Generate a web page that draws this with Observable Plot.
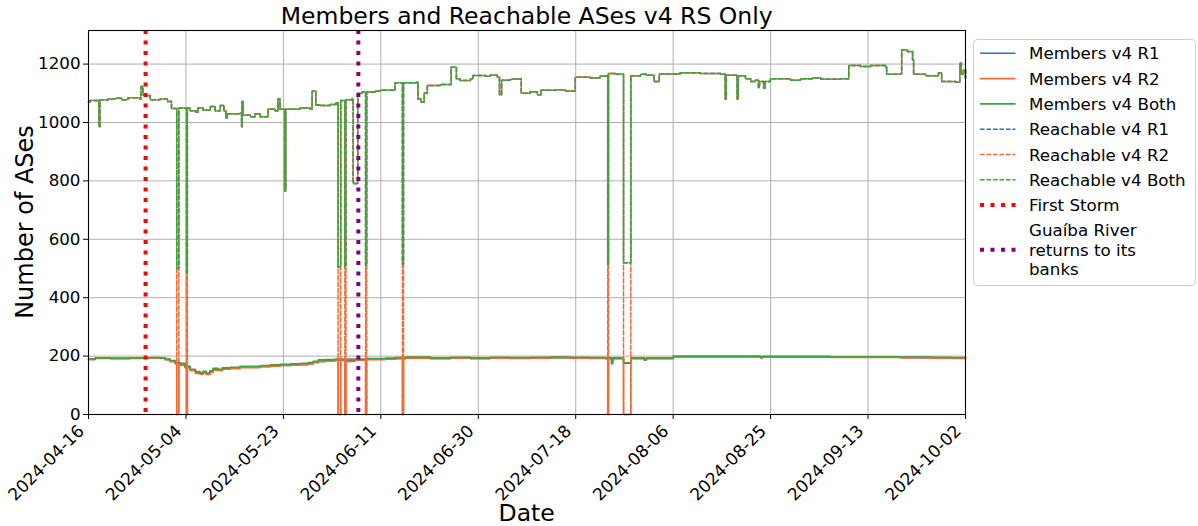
<!DOCTYPE html>
<html><head><meta charset="utf-8">
<script src="https://cdn.jsdelivr.net/npm/d3@7"></script>
<script src="https://cdn.jsdelivr.net/npm/@observablehq/plot@0.6"></script>
<style>
body{margin:0;background:#fff}
svg{font-family:"DejaVu Sans",sans-serif}
</style>
</head><body><div id="chart"></div>
<script>
// ---- data (x = days since 2024-04-16 UTC) ----
const startDay = "2024-04-16";
const endDay = "2024-10-02";
const xTickLabels = ["2024-04-16","2024-05-04","2024-05-23","2024-06-11","2024-06-30","2024-07-18","2024-08-06","2024-08-25","2024-09-13","2024-10-02"];
const yTicks = [0,200,400,600,800,1000,1200];
const eventDates = ["2024-04-27","2024-06-07"];
const eventLabels = ["First Storm","Guaíba River returns to its banks"];

// Reachable ASes (R1, R2 and Both coincide outside the outages)
const reachable = [[0,1070],[0.3,1075],[2.0,985],[2.2,1078],[3.8,1080],[5.1,1083],[6.5,1078],[7.6,1085],[9.9,1080],[10.1,1123],[10.5,1095],[11.1,1092],[11.9,1078],[13.8,1080],[15.2,1072],[16.0,1048],[17.4,1050],[19.6,1040],[20.7,1035],[21.1,1050],[22.1,1042],[23.5,1055],[24.4,1040],[25.4,1058],[26.1,1040],[26.5,1015],[26.7,1030],[29.2,1032],[29.5,985],[29.6,1072],[29.8,1025],[31.2,1020],[32.1,1030],[33.1,1020],[34.6,1045],[35.9,1040],[36.5,1080],[36.9,1045],[37.8,765],[38.0,1045],[40.8,1050],[42.7,1045],[43.1,1107],[43.8,1060],[44.7,1058],[46.6,1062],[47.7,1068],[48.6,1075],[49.6,1078],[50.8,1082],[51.0,791],[51.9,1100],[52.7,1104],[55.3,1108],[56.2,1110],[58.7,1112],[59.1,1136],[63.3,1138],[63.5,1080],[64.1,1070],[64.7,1100],[65.3,1127],[67.8,1130],[69.9,1189],[70.9,1150],[71.6,1144],[73.6,1150],[74.1,1161],[76.5,1158],[77.4,1162],[78.8,1155],[79.2,1095],[79.6,1145],[81.3,1148],[82.8,1150],[83.4,1100],[85.1,1105],[86.5,1095],[87.2,1110],[89.9,1112],[91.9,1108],[93.8,1155],[96.7,1152],[98.6,1158],[99.6,1160],[100.2,1168],[101.5,1165],[104.5,1160],[106.4,1165],[107.5,1162],[109.0,1140],[110.0,1166],[114.0,1170],[117.9,1168],[121.8,1165],[122.7,1080],[122.9,1162],[125.0,1080],[125.2,1160],[126.6,1150],[127.6,1140],[128.5,1145],[129.1,1120],[129.3,1140],[130.1,1118],[130.4,1140],[131.4,1150],[135.3,1145],[137.2,1150],[139.5,1152],[141.1,1148],[144.9,1150],[146.5,1195],[148.8,1192],[150.7,1195],[153.6,1190],[153.8,1165],[156.5,1167],[156.7,1249],[157.8,1243],[158.8,1214],[159.0,1165],[161.3,1160],[163.8,1170],[164.4,1140],[167.1,1138],[167.9,1203],[168.2,1165],[168.6,1180],[169,1150]];

// Members
const memberDays = [0,1.3,4.2,8.0,11.9,13.8,14.8,15.7,16.7,17.7,18.6,19.6,20.6,21.5,22.1,22.7,23.4,24.0,25.0,25.8,27.3,29.2,33.1,35.0,36.9,38.9,40.8,42.3,43.3,44.3,45.6,47.5,49.5,51.4,53.3,57.2,59.1,61.1,65.9,69.7,73.6,77.4,81.3,85.1,89.0,92.8,96.7,99.6,100.8,101.0,103.1,104.5,107.1,107.5,112.7,125.6,129.5,129.9,143.0,156.5,162.4,166.3,169];
const membersBoth = [190,194,193,194,195,194,190,185,178,175,165,155,147,143,148,142,150,158,155,160,162,165,168,170,172,174,175,178,182,187,188,190,186,190,192,193,195,197,194,196,194,196,195,196,197,196,195,194,177,194,177,194,188,194,200,200,196,199,198,197,196,195,194];
const membersR1 = [189,193,192,193,194,193,189,183,176,172,162,152,144,140,145,139,147,155,152,157,159,162,165,167,169,171,172,175,179,183,184,186,183,187,189,190,192,194,192,194,192,194,193,194,195,194,193,192,175,192,176,192,187,192,198,198,195,197,196,195,194,193,192];
const membersR2 = [188,192,191,192,193,192,187,181,173,169,160,150,141,138,142,137,144,152,150,155,157,160,163,165,167,169,170,173,177,181,183,185,182,186,188,189,191,193,191,193,191,193,192,193,194,193,192,191,174,191,176,191,186,191,197,197,194,196,195,194,193,192,191];

// R2 outages (days): reachable R1/Both fall to `reach`, R2 falls to 0
const outageStart = [17.0,18.9,48.1,49.4,53.4,60.5,100.05,103.1];
const outageEnd   = [17.4,19.05,48.6,49.6,53.6,60.7,100.2,104.5];
const outageReach = [500,483,505,505,510,515,515,520];

// ---- assembly ----
const t0 = Date.parse(startDay + "T00:00:00Z");
const toDate = d => new Date(t0 + d * 864e5);
const outages = outageStart.map((s, i) => ({start: s, end: outageEnd[i], reach: outageReach[i]}));

function build(points, pick) {
  let out = points.filter(p => !outages.some(o => p.d > o.start && p.d < o.end)).map(p => ({...p}));
  if (pick) for (const o of outages) {
    const prev = points.filter(p => p.d <= o.end);
    out.push({d: o.start, v: pick(o)}, {d: o.end, v: prev[prev.length - 1].v});
  }
  out.sort((a, b) => a.d - b.d);
  return out.map(p => ({date: toDate(p.d), value: p.v}));
}
const reachPts = reachable.map(([d, v]) => ({d, v}));
const memPts = arr => memberDays.map((d, i) => ({d, v: arr[i]}));

const blue = "#3a6fb5", orange = "#f26b33", green = "#3ea43e";
const DASH = "4.6,1.9", DOT = "4,6.5";
const series = [
  {name: "Members v4 R1", data: build(memPts(membersR1), null), color: blue, dash: null},
  {name: "Members v4 R2", data: build(memPts(membersR2), o => 0), color: orange, dash: null},
  {name: "Members v4 Both", data: build(memPts(membersBoth), null), color: green, dash: null},
  {name: "Reachable v4 R1", data: build(reachPts, o => o.reach), color: blue, dash: DASH},
  {name: "Reachable v4 R2", data: build(reachPts, o => 0), color: orange, dash: DASH},
  {name: "Reachable v4 Both", data: build(reachPts, o => o.reach), color: green, dash: DASH}
];

const tickDates = xTickLabels.map((_, i) => toDate(i * 169 / 9));

const lineMarks = series.map(s => Plot.line(s.data, {
  x: "date", y: "value", curve: "step-after", stroke: s.color,
  strokeWidth: s.dash ? 1.5 : 1.6, strokeDasharray: s.dash || undefined
}));

const svg = Plot.plot({
  width: 1198, height: 526,
  marginLeft: 88, marginRight: 233, marginTop: 30, marginBottom: 112,
  style: {fontFamily: "DejaVu Sans, sans-serif", background: "#fff"},
  x: {type: "utc", domain: [toDate(0), toDate(169)]},
  y: {domain: [0, 1315]},
  marks: [
    Plot.gridX(tickDates, {stroke: "#b0b0b0", strokeOpacity: 1, strokeWidth: 1}),
    Plot.gridY(yTicks, {stroke: "#b0b0b0", strokeOpacity: 1, strokeWidth: 1}),
    ...lineMarks,
    Plot.ruleX([eventDates[0]], {x: d => new Date(d + "T00:00:00Z"), stroke: "#ff0000", strokeWidth: 4, strokeDasharray: DOT}),
    Plot.ruleX([eventDates[1]], {x: d => new Date(d + "T00:00:00Z"), stroke: "#800080", strokeWidth: 4, strokeDasharray: DOT}),
    Plot.frame({stroke: "#000", strokeWidth: 1.1}),
    Plot.axisX(tickDates, {tickFormat: () => "", tickSize: 5, label: null}),
    Plot.axisY(yTicks, {tickFormat: d => String(d), fontSize: 16.7, tickSize: 5, tickPadding: 3, label: null, fill: "#000"})
  ]
});
document.getElementById("chart").appendChild(svg);

// ---- rotated x tick labels, titles & legend ----
const root = d3.select(svg);
const xs = svg.scale("x");
const xl = root.append("g").attr("font-size", "17px").attr("fill", "#000").attr("text-anchor", "end");
tickDates.forEach((d, i) => {
  const px = xs.apply(d);
  xl.append("text").attr("transform", `translate(${px - 2.9},${432}) rotate(-45)`).text(xTickLabels[i]);
});

root.append("text").attr("x", 526.7).attr("y", 24).attr("text-anchor", "middle")
  .attr("font-size", "23.5px").attr("fill", "#000").text("Members and Reachable ASes v4 RS Only");
root.append("text").attr("transform", "translate(33,222) rotate(-90)").attr("text-anchor", "middle")
  .attr("font-size", "24px").attr("fill", "#000").text("Number of ASes");
root.append("text").attr("x", 526.7).attr("y", 521).attr("text-anchor", "middle")
  .attr("font-size", "23.5px").attr("fill", "#000").text("Date");

const leg = root.append("g").attr("text-anchor", "start");
leg.append("rect").attr("x", 973.5).attr("y", 39.5).attr("width", 222).attr("height", 246).attr("rx", 4)
  .attr("fill", "#fff").attr("fill-opacity", 0.8).attr("stroke", "#cccccc");
const legendItems = series.map(s => ({lines: [s.name], color: s.color, dash: s.dash, w: 1.6}))
  .concat([
    {lines: [eventLabels[0]], color: "#ff0000", dash: DOT, w: 4},
    {lines: ["Guaíba River", "returns to its", "banks"], color: "#800080", dash: DOT, w: 4}
  ]);
let yy = 53.3;
legendItems.forEach(it => {
  const n = it.lines.length;
  const cy = yy + (n - 1) * 19.3 / 2;
  leg.append("line").attr("x1", 980).attr("x2", 1015.5).attr("y1", cy).attr("y2", cy)
    .attr("stroke", it.color).attr("stroke-width", it.w).attr("stroke-dasharray", it.dash);
  it.lines.forEach((t, k) => {
    leg.append("text").attr("x", 1029).attr("y", yy + k * 19.3).attr("dy", "0.36em")
      .attr("font-size", "16.7px").attr("fill", "#000").attr("text-anchor", "start").text(t);
  });
  yy += 25.3 + (n - 1) * 19.3;
});
</script></body></html>
